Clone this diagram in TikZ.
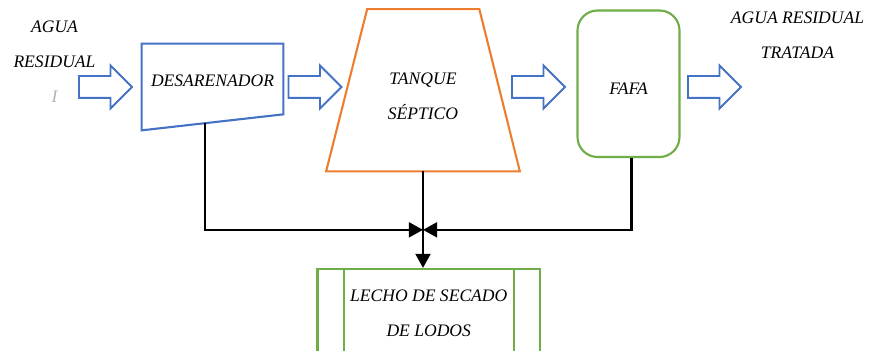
\documentclass[tikz,border=0pt]{standalone}
\usepackage{fontspec}
\setmainfont{Liberation Serif}
\usetikzlibrary{shapes.arrows,arrows.meta,calc}
\definecolor{azul}{HTML}{4472C4}
\definecolor{naranja}{HTML}{ED7D31}
\definecolor{verde}{HTML}{70AD47}

\begin{document}
\begin{tikzpicture}[
	texto/.style={font=\itshape, align=center},
	borde/.style={line width=1.2pt},
	flecha/.style={single arrow, draw=azul, line width=1.1pt, single arrow tip angle=90,
		single arrow head extend=0.21cm, minimum height=1.06cm, inner sep=0pt,
		text height=0.2cm, text depth=0.2cm},
	linea/.style={line width=1.5pt, -{Triangle[length=8pt,width=8.4pt]}}
	]
	\useasboundingbox (0,0) rectangle (17.38,7.02);
	\clip (0,0) rectangle (17.38,7.02);
	
	% desarenador
	\node[texto, minimum width=2.82cm, minimum height=1.72cm, text depth=0.24cm] (des) at (4.25,5.28) {DESARENADOR};
	\draw[borde, azul] (des.north west) -- (des.north east) -- ($(des.south east)+(0,0.32)$) -- (des.south west) -- cycle;
	
	% tanque septico
	\node[minimum width=3.86cm, minimum height=3.23cm,
		label={[texto, name=tanquetxt, yshift=-0.12cm]center:TANQUE\\[8pt]SÉPTICO}] (tanque) at (8.46,5.215) {};
	\draw[borde, naranja] ($(tanque.north west)+(0.82,0)$) -- ($(tanque.north east)+(-0.81,0)$)
		-- (tanque.south east) -- (tanque.south west) -- cycle;
	
	% FAFA
	\node[texto, borde, draw=verde, rounded corners=0.4cm, minimum width=2.04cm, minimum height=2.93cm,
		text height=0.45cm] (fafa) at (12.57,5.345) {FAFA};
	
	% lecho de secado
	\node[texto, borde, draw=verde, minimum width=4.45cm, minimum height=1.76cm] (lecho) at (8.575,0.76) {LECHO DE SECADO\\[8pt]DE LODOS};
	\draw[borde, verde] ($(lecho.north west)+(0.55,0)$) -- ($(lecho.south west)+(0.55,0)$);
	\draw[borde, verde] ($(lecho.north east)+(-0.55,0)$) -- ($(lecho.south east)+(-0.55,0)$);
	
	% flechas de bloque
	\node[flecha] (f1) at (2.0,5.28) {};
	\node[flecha] (f2) at (6.19,5.28) {};
	\node[flecha] (f3) at (10.66,5.28) {};
	\node[flecha] (f4) at (14.18,5.28) {};
	
	% entrada y salida
	\node[texto] (entrada) at (1.09,5.79) {AGUA\\[8pt]RESIDUAL\\[8pt]\textcolor{gray!60}{I}};
	\node[texto] (salida) at (15.95,6.32) {AGUA RESIDUAL\\[8pt]TRATADA};
	
	% lodos
	\coordinate (junta) at ($(tanque.south)+(0,-1.17)$);
	\coordinate (desfondo) at (4.1,4.56);
	\draw[linea] (desfondo) |- (junta);
	\draw[linea] ($(fafa.south)+(0.06,0)$) |- (junta);
	\draw[linea] (tanque.south) -- (tanque.south |- lecho.north);
	
\end{tikzpicture}
\end{document}
